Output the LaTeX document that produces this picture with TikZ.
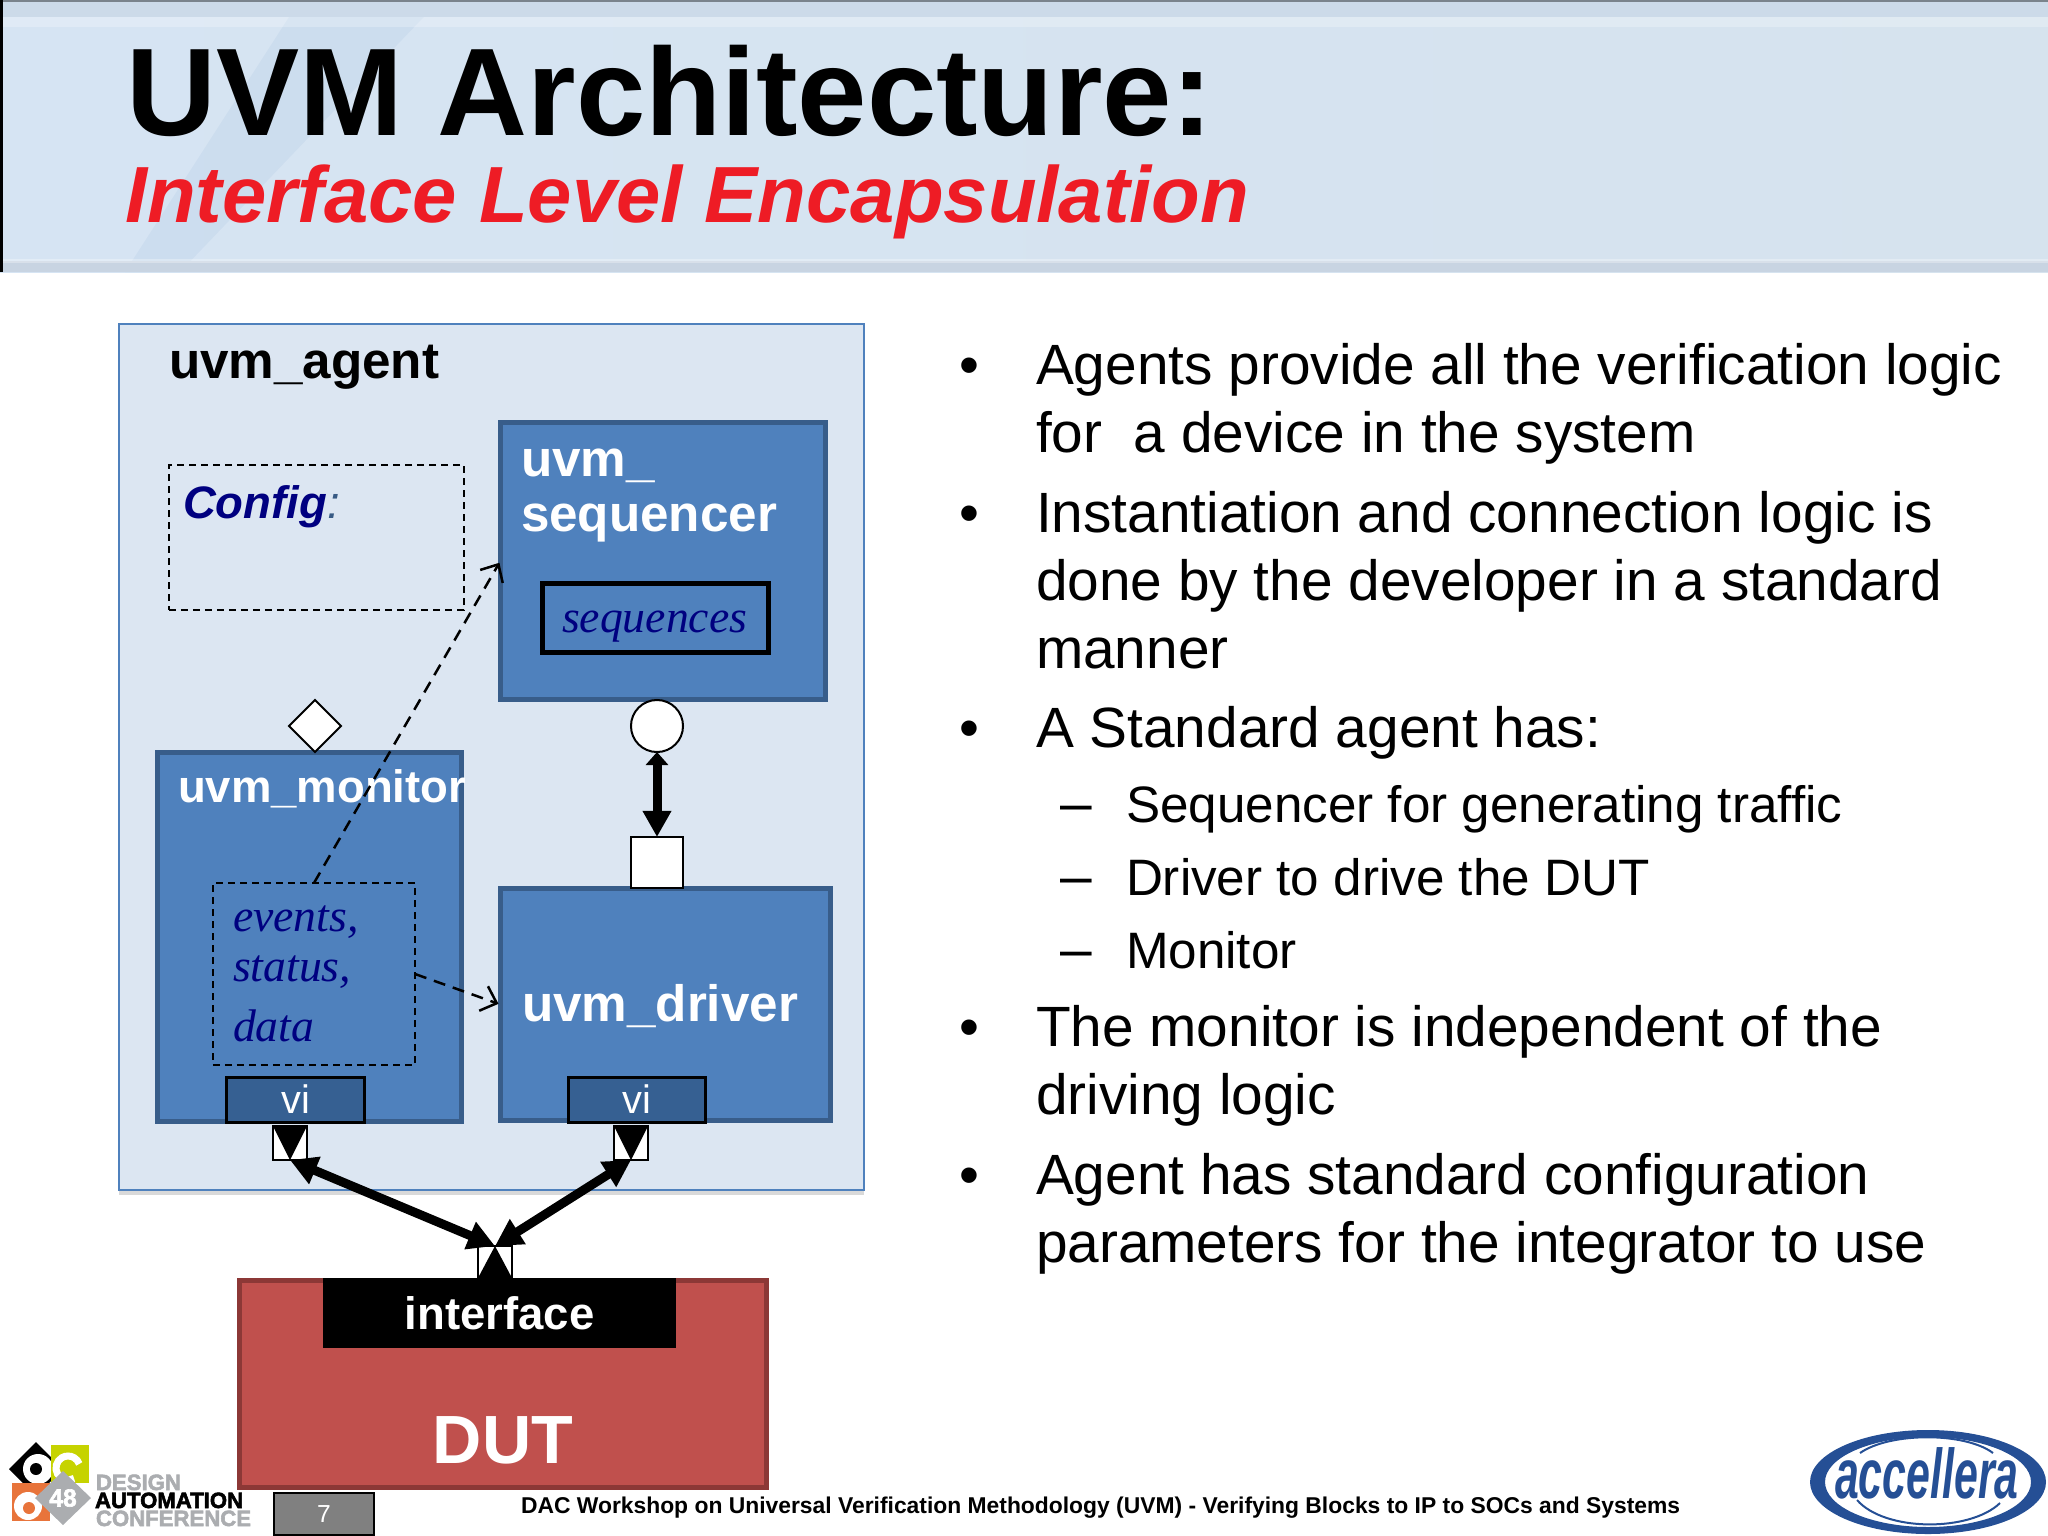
\documentclass[tikz,border=0pt]{standalone}
\usepackage{fontspec}
\usepackage{xcolor}
\setmainfont{Liberation Sans}
\newfontfamily\serifit{Liberation Serif}[ItalicFont=* Italic]
\newfontfamily\logofont{Liberation Sans}[BoldFeatures={FakeBold=2.5}]
\usetikzlibrary{arrows.meta,shapes.geometric,shadows}

\definecolor{bandblue}{HTML}{D6E4F3}
\definecolor{bandmid}{HTML}{DDE9F5}
\definecolor{bandtop}{HTML}{CCDAE9}
\definecolor{bandgrey}{HTML}{D6E3EE}
\definecolor{bandedge}{HTML}{C8D4E2}
\definecolor{agentfill}{HTML}{DCE6F2}
\definecolor{agentline}{HTML}{4F81BD}
\definecolor{blockfill}{HTML}{4F81BD}
\definecolor{blockline}{HTML}{385D8A}
\definecolor{vifill}{HTML}{366092}
\definecolor{dutfill}{HTML}{C0504D}
\definecolor{dutline}{HTML}{8C3836}
\definecolor{subred}{HTML}{EE1C25}
\definecolor{labelnavy}{HTML}{000080}
\definecolor{dacgreen}{HTML}{C6D300}
\definecolor{dacorange}{HTML}{E8743B}
\definecolor{dacgrey}{HTML}{ABADB0}
\definecolor{accblue}{HTML}{254F95}

\tikzset{
  slidetext/.style={anchor=base west, inner sep=0pt, outer sep=0pt},
  bodyline/.style={slidetext, font=\fontsize{16.15}{19}\selectfont},
  subline/.style={slidetext, font=\fontsize{14.56}{17}\selectfont},
  bullet/.style={anchor=base, inner sep=0pt, font=\fontsize{16.15}{19}\selectfont},
  boxbase/.style={rectangle, inner sep=0pt, outer sep=0pt},
  block/.style={boxbase, draw=blockline, fill=blockfill, line width=0.05cm},
  blocklabel/.style={slidetext, text=white, font=\fontsize{14.56}{17}\selectfont\bfseries},
  dashbox/.style={boxbase, draw=black, line width=0.02cm, dash pattern=on 0.07cm off 0.05cm},
  port/.style={boxbase, draw=black, fill=white, line width=0.02cm},
  vibox/.style={boxbase, draw=black, fill=vifill, line width=0.03cm, text=white,
    font=\fontsize{11.3}{13}\selectfont, minimum width=1.37cm, minimum height=0.45cm},
  italiclabel/.style={slidetext, text=labelnavy, font=\fontsize{13}{15}\selectfont\serifit\itshape},
  bus/.style={line width=0.09cm, {Triangle[length=0.27cm,width=0.28cm]}-{Triangle[length=0.27cm,width=0.28cm]}},
  dashlink/.style={line width=0.025cm, dash pattern=on 0.12cm off 0.08cm, shorten >=0.02cm,
    -{Straight Barb[length=0.14cm,width=0.26cm]}},
  daclabel/.style={slidetext, font=\fontsize{6.3}{7}\selectfont\logofont\bfseries}
}

\begin{document}
\begin{tikzpicture}[x=0.01cm,y=-0.01cm]
  \useasboundingbox (0,0) rectangle (2048,1536);
  % header band
  \shade[left color=bandblue, middle color=bandmid, right color=bandgrey] (0,0) rectangle (2048,272);
  \fill[agentline, opacity=0.07] (300,0) -- (440,0) -- (180,272) -- (125,272) -- cycle;
  \fill[bandtop] (0,1) rectangle (2048,17);
  \fill[white, opacity=0.25] (0,17) rectangle (2048,27);
  \fill[bandtop!60!black] (0,0) rectangle (2048,1.5);
  \fill[bandedge] (0,261) rectangle (2048,272);
  \fill[white, opacity=0.3] (0,259) rectangle (2048,263);
  \fill[black] (0,0) rectangle (3,272);
  \node[slidetext, font=\fontsize{35.45}{40}\selectfont\bfseries] (title) at (126,135) {UVM Architecture:};
  \node[slidetext, text=subred, font=\fontsize{22.65}{26}\selectfont\bfseries\itshape] (subtitle) at (125,222) {Interface Level Encapsulation};

  % agent
  \node[boxbase, draw=agentline, fill=agentfill, line width=0.02cm, minimum width=7.45cm, minimum height=8.66cm,
    drop shadow={shadow xshift=0cm, shadow yshift=-0.05cm, opacity=0.3}] (agent) at (491.5,757) {};
  \node[slidetext, font=\fontsize{14.56}{17}\selectfont\bfseries] (agentlabel) at (169,378) {uvm\_agent};

  % config
  \node[dashbox, minimum width=2.95cm, minimum height=1.45cm] (config) at (316.5,537.5) {};
  \node[slidetext, text=labelnavy, font=\fontsize{12.94}{15}\selectfont\bfseries\itshape] (configlabel) at (183,518)
    {Config\textcolor{agentline!70!black}{\mdseries:}};

  % sequencer
  \node[block, minimum width=3.25cm, minimum height=2.77cm] (sequencer) at (663,561) {};
  \node[blocklabel] (seqlabela) at (521,476) {uvm\_};
  \node[blocklabel] (seqlabelb) at (521,531) {sequencer};
  \node[boxbase, draw=black, line width=0.045cm, minimum width=2.26cm, minimum height=0.69cm] (sequences) at (655.5,618) {};
  \node[italiclabel] (seqtext) at (562,632) {sequences};

  % monitor
  \node[block, minimum width=3.04cm, minimum height=3.69cm] (monitor) at (309.5,937) {};
  \node[slidetext, text=white, font=\fontsize{12.94}{15}\selectfont\bfseries] (monlabel) at (178,802) {uvm\_monitor};
  \node[dashbox, minimum width=2.02cm, minimum height=1.82cm] (events) at (314,974) {};
  \node[italiclabel] (eventsa) at (233,931) {events,};
  \node[italiclabel] (eventsb) at (233,981) {status,};
  \node[italiclabel] (eventsc) at (233,1041) {data};
  \node[vibox] (vimon) at (295.5,1099.5) {vi};

  % driver
  \node[block, minimum width=3.30cm, minimum height=2.32cm] (driver) at (665.5,1004.5) {};
  \node[blocklabel] (drvlabel) at (522,1021) {uvm\_driver};
  \node[vibox] (vidrv) at (637,1099.5) {vi};

  % ports
  \node[port, shape=diamond, minimum width=0.52cm, minimum height=0.52cm] (analysis) at (315,726) {};
  \node[port, shape=circle, minimum size=0.52cm] (seqport) at (657,726) {};
  \node[port, minimum width=0.52cm, minimum height=0.51cm] (drvport) at (657,862.5) {};
  \node[port, minimum width=0.34cm, minimum height=0.34cm] (monvi) at (290,1143) {};
  \node[port, minimum width=0.34cm, minimum height=0.34cm] (drvvi) at (631,1143) {};
  \node[port, minimum width=0.34cm, minimum height=0.32cm] (ifport) at (495,1262) {};
  \fill (monvi.north west) -- (monvi.north east) -- (monvi.south) -- cycle;
  \fill (drvvi.north west) -- (drvvi.north east) -- (drvvi.south) -- cycle;
  \fill (ifport.south west) -- (ifport.south east) -- (ifport.north) -- cycle;

  % DUT
  \node[boxbase, draw=dutline, fill=dutfill, line width=0.05cm, minimum width=5.27cm, minimum height=2.07cm] (dut) at (503,1384) {};
  \node[boxbase, fill=black, text=white, minimum width=3.53cm, minimum height=0.70cm,
    font=\fontsize{12.94}{15}\selectfont\bfseries] (interface) at (499.5,1313) {interface};
  \node[anchor=base, inner sep=0pt, text=white, font=\fontsize{19.4}{22}\selectfont\bfseries] (dutlabel) at (503,1463) {DUT};

  % connectors
  \draw[dashlink] (events.north) -- (sequencer.west);
  \draw[dashlink] (events.east) -- (driver.west);
  \draw[line width=0.09cm, {Triangle[length=0.13cm,width=0.22cm]}-{Triangle[length=0.26cm,width=0.27cm]}] (seqport.south) -- (drvport.north);
  \draw[bus] (monvi.south) -- (ifport.north);
  \draw[bus] (drvvi.south) -- (ifport.north);

  % bullet text
  \node[bullet] (b1) at (969,384) {•};
  \node[bodyline] (l1) at (1036,384) {Agents provide all the verification logic};
  \node[bodyline] (l2) at (1036,452) {for\ \ a device in the system};
  \node[bullet] (b2) at (969,532) {•};
  \node[bodyline] (l3) at (1036,532) {Instantiation and connection logic is};
  \node[bodyline] (l4) at (1036,600) {done by the developer in a standard};
  \node[bodyline] (l5) at (1036,668) {manner};
  \node[bullet] (b3) at (969,747) {•};
  \node[bodyline] (l6) at (1036,747) {A Standard agent has:};
  \node[bullet] (d1) at (1076,822) {–};
  \node[subline] (s1) at (1126,822) {Sequencer for generating traffic};
  \node[bullet] (d2) at (1076,895) {–};
  \node[subline] (s2) at (1126,895) {Driver to drive the DUT};
  \node[bullet] (d3) at (1076,968) {–};
  \node[subline] (s3) at (1126,968) {Monitor};
  \node[bullet] (b4) at (969,1046) {•};
  \node[bodyline] (l7) at (1036,1046) {The monitor is independent of the};
  \node[bodyline] (l8) at (1036,1114) {driving logic};
  \node[bullet] (b5) at (969,1194) {•};
  \node[bodyline] (l9) at (1036,1194) {Agent has standard configuration};
  \node[bodyline] (l10) at (1036,1262) {parameters for the integrator to use};

  % footer
  \node[boxbase, draw=black, fill=black!50, line width=0.02cm, minimum width=1cm, minimum height=0.42cm,
    text=white, font=\fontsize{7}{8}\selectfont] (pagenum) at (324,1514) {7};
  \node[slidetext, font=\fontsize{6.5}{8}\selectfont\bfseries] (footer) at (521,1513)
    {DAC Workshop on Universal Verification Methodology (UVM) - Verifying Blocks to IP to SOCs and Systems};

  % conference logo
  \fill[black] (36,1442) -- (63,1469) -- (36,1496) -- (9,1469) -- cycle;
  \fill[white] (38,1469) circle (15);
  \fill[black] (36,1469) circle (6);
  \fill[dacgreen] (51,1445) rectangle (89,1483);
  \draw[white, line width=0.07cm] (74,1478.4) arc (60:340:12);
  \fill[dacorange] (12,1483) rectangle (50,1521);
  \fill[white] (28,1506) circle (14);
  \fill[dacorange] (29,1508) circle (6);
  \fill[dacgrey] (63,1471) -- (91,1498) -- (63,1525) -- (35,1498) -- cycle;
  \node[anchor=center, inner sep=0pt, text=white, font=\fontsize{7}{8}\selectfont\logofont\bfseries] (dacnum) at (63,1498) {48};
  \node[daclabel, text=dacgrey] (dacone) at (96,1490) {DESIGN};
  \node[daclabel] (dactwo) at (95,1508) {AUTOMATION};
  \node[daclabel, text=dacgrey] (dacthree) at (96,1526) {CONFERENCE};

  % accellera logo
  \fill[accblue, even odd rule] (1928,1482) ellipse (118 and 52) (1928,1482) ellipse (103 and 45);
  \draw[accblue, line width=0.02cm] (1860,1453) .. controls (1890,1432) and (1965,1432) .. (1993,1453);
  \draw[accblue, line width=0.02cm] (1857,1500) .. controls (1885,1532) and (1970,1532) .. (2000,1503);
  \node[slidetext, text=accblue, font=\fontsize{20}{22}\selectfont\logofont\bfseries\itshape] (acclabel) at (1835,1498)
    {\scalebox{0.61}[1]{accellera}};
\end{tikzpicture}
\end{document}
